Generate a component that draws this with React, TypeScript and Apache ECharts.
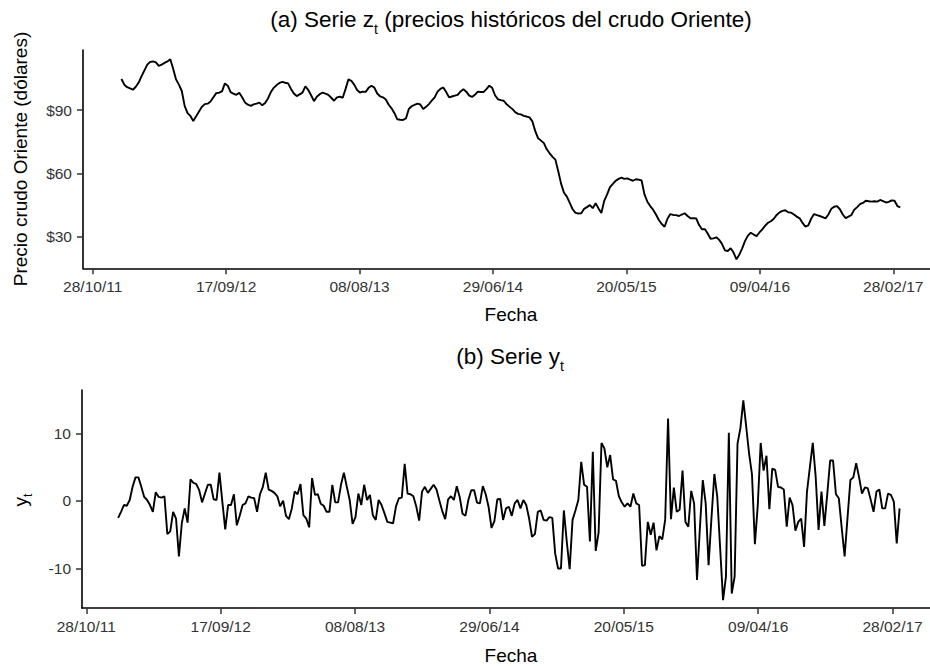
import React, { useEffect, useRef } from "react";
import * as echarts from "echarts";

// Date ticks shown on both time axes (dd/mm/yy)
const tickLabels = ["28/10/11", "17/09/12", "08/08/13", "29/06/14", "20/05/15", "09/04/16", "28/02/17"];

// First weekly observation of the price series (dd/mm/yy)
const firstWeek = "06/01/12";

// Weekly Oriente crude price, US$ (z_t)
const priceZ = [
  104.7, 102.0, 100.8, 100.2, 99.6, 101.0, 103.0, 106.0, 108.8, 111.5,
  112.8, 113.0, 112.6, 110.9, 111.5, 112.3, 113.0, 114.0, 109.5, 104.5,
  102.0, 99.0, 92.0, 88.5, 87.2, 84.8, 87.0, 89.3, 91.5, 92.8,
  93.0, 94.0, 96.0, 98.0, 98.2, 98.8, 102.6, 101.5, 98.5, 97.7,
  97.2, 98.2, 96.0, 93.6, 92.5, 92.0, 92.7, 93.0, 93.5, 92.2,
  93.3, 95.5, 98.5, 100.5, 101.8, 102.8, 103.3, 102.9, 102.6, 100.0,
  97.8, 96.6, 97.4, 98.2, 101.2, 99.5, 97.0, 94.2, 96.3, 97.5,
  98.2, 97.8, 97.2, 95.8, 94.4, 96.0, 96.3, 95.8, 100.0, 104.5,
  103.8, 102.0, 99.5, 98.3, 98.7, 98.6, 100.5, 101.5, 100.6, 97.8,
  96.5, 96.0, 95.0, 92.5, 90.8, 88.5, 85.6, 85.4, 85.3, 86.0,
  90.5, 91.8, 92.4, 93.0, 92.6, 90.5, 91.5, 92.8, 94.5, 96.0,
  98.7, 100.0, 100.7, 98.5, 96.0, 96.4, 96.8, 97.2, 98.8, 99.8,
  98.7, 96.8, 96.2, 97.2, 98.7, 98.5, 98.5, 99.9, 101.5, 100.5,
  97.0, 95.1, 94.7, 94.4, 92.8, 91.6, 90.5, 89.0, 88.2, 87.9,
  87.2, 86.9, 86.5, 84.6, 80.0, 76.6, 75.5, 74.3, 71.4, 69.5,
  67.8, 66.5, 61.0, 55.0, 50.8, 49.0, 46.0, 43.0, 41.3, 41.0,
  41.1, 43.2, 44.0, 45.0, 43.5, 45.8, 43.4, 41.2, 47.0, 50.0,
  53.5, 55.0, 56.5, 57.4, 58.0, 57.4, 57.6, 57.0, 56.5, 57.2,
  57.0, 56.6, 50.0, 46.6, 44.5, 42.8, 40.5, 37.9, 36.0, 34.7,
  38.5, 40.7, 40.3, 40.2, 39.8, 40.5, 41.1, 39.8, 38.7, 38.8,
  38.7, 35.5, 33.5, 33.6, 31.5, 29.0, 29.2, 29.7, 28.5, 26.5,
  23.5, 23.2, 24.5, 22.5, 19.3, 21.5, 24.5, 28.0, 30.5, 31.9,
  31.0, 30.3, 32.0, 33.5, 35.2, 36.6, 37.3, 38.5, 40.3, 41.5,
  42.2, 42.5, 41.6, 41.4, 40.5, 39.5, 38.7, 36.5, 34.8, 35.4,
  38.5, 40.7, 40.2, 39.8, 39.3, 38.7, 40.5, 43.2, 44.2, 44.5,
  43.0, 40.5, 38.8, 39.5, 40.3, 42.8, 44.0, 45.4, 46.0, 47.0,
  46.8, 46.6, 46.8, 46.6, 47.4, 46.8, 46.2, 46.5, 47.2, 47.0,
  44.5, 43.9,
];

// Weekly series y_t, starting one week after the first price
const seriesY = [
  -2.5, -1.6, -0.6, -0.7, 0.15, 2.1, 3.5, 3.5, 2.1, 0.6,
  0.15, -0.6, -1.6, 1.3, 0.6, 0.5, 0.7, -4.9, -4.5, -1.6,
  -2.6, -8.2, -3.3, -1.1, -3.2, 3.2, 2.7, 2.5, 1.6, -0.2,
  1.1, 2.4, 2.4, 0.25, 0.15, 4.2, -0.1, -4.2, -0.6, -0.6,
  1.0, -3.6, -2.2, -0.6, -0.35, 0.7, 0.5, 0.4, -1.6, 1.0,
  2.1, 4.2, 1.7, 1.5, 1.2, 0.7, -0.8, 0.05, -2.2, -2.7,
  -1.1, 1.4, 1.0, 2.5, -2.1, -2.6, -3.9, 3.4, 0.9, 1.0,
  -0.4, -0.7, -1.6, -1.6, 2.4, -0.2, -0.2, 2.4, 4.2, 2.1,
  0.15, -3.4, -2.4, 1.1, -0.6, 2.4, 0.15, 0.9, -2.1, -2.8,
  0.15, -0.6, -1.8, -3.1, -3.2, -3.3, -0.8, 0.4, 0.5, 5.5,
  1.1, 1.0, 0.7, -0.8, -2.9, 1.4, 2.1, 1.2, 1.8, 2.4,
  1.7, 0.05, -1.5, -2.7, 0.25, 0.7, 0.15, 2.2, 0.6, -1.9,
  -2.2, 0.15, 1.6, 1.6, -0.25, -0.35, 2.2, 1.0, -0.9, -4.0,
  -3.0, 0.25, 0.3, -2.8, -1.1, -0.85, -2.2, -0.35, 0.15, -1.1,
  0.15, -0.6, -2.6, -5.3, -4.9, -1.6, -1.4, -2.8, -2.9, -2.4,
  -2.5, -7.8, -10.0, -10.0, -1.4, -6.0, -10.1, -2.8, -1.4, 0.15,
  5.8, 2.4, 2.1, -6.0, 7.3, -7.4, -4.7, 8.6, 7.8, 5.0,
  6.8, 3.2, 3.0, 0.7, -0.2, -0.85, -0.35, -0.85, 1.1, -0.35,
  -0.6, -9.6, -9.5, -3.1, -5.0, -3.2, -7.3, -5.2, -5.7, -2.8,
  12.2, -2.7, 2.0, -1.6, -1.3, 4.5, -3.1, -3.8, 1.5, -0.35,
  -11.7, -4.0, 3.1, -0.35, -9.5, -2.5, 4.0, 0.6, -7.0, -14.7,
  -11.2, 10.1, -13.7, -11.2, 8.5, 10.8, 14.9, 11.0, 7.0, 3.9,
  -6.4, -0.6, 8.6, 4.5, 6.7, -1.2, 4.8, 4.6, 2.1, 2.0,
  1.7, -3.8, 0.5, -0.6, -4.4, -3.1, -2.6, -6.8, 1.4, 5.0,
  8.6, 3.6, -4.3, 1.4, -3.7, 1.0, 6.0, 6.0, 1.0, 0.4,
  -4.0, -8.2, -2.5, 3.1, 3.5, 5.6, 3.5, 1.1, 2.0, 1.9,
  0.2, -1.6, 1.4, 1.7, -1.1, -1.1, 1.1, 0.9, -0.1, -6.3,
  -1.1,
];

const priceTicks = [30, 60, 90];
const yTicks = [-10, 0, 10];

const DAY = 86400000;
const WEEK = 7 * DAY;
const FONT = "'Liberation Sans', Arial, Helvetica, sans-serif";

function parseDate(s: string): number {
  const [d, m, y] = s.split("/").map(Number);
  return Date.UTC(2000 + y, m - 1, d);
}

function fmtDate(v: number): string {
  const dt = new Date(v);
  const p = (n: number) => String(n).padStart(2, "0");
  return `${p(dt.getUTCDate())}/${p(dt.getUTCMonth() + 1)}/${p(dt.getUTCFullYear() % 100)}`;
}

export default function App() {
  const ref = useRef<HTMLDivElement>(null);

  useEffect(() => {
    if (!ref.current) return;
    const chart = echarts.init(ref.current, undefined, { renderer: "svg" });

    const start = parseDate(firstWeek);
    const tickVals = tickLabels.map(parseDate);
    const t0 = tickVals[0];

    const zData = priceZ.map((v, i) => [start + i * WEEK, v]);
    const yData = seriesY.map((v, i) => [start + (i + 1) * WEEK, v]);

    // horizontal scales of the two panels (px per day)
    const topPxDay = 133.43 / 325;
    const botPxDay = 134.38 / 325;
    const topLeft = 83, topWidth = 847;
    const botLeft = 82, botWidth = 848;
    const topMin = t0 - 23.6 * DAY;
    const topMax = topMin + (topWidth / topPxDay) * DAY;
    const botMin = t0 - 10.4 * DAY;
    const botMax = botMin + (botWidth / botPxDay) * DAY;

    const axisLineStyle = { color: "#000", width: 1.6 };
    const tickStyle = { color: "#333", width: 1.5 };
    const labelBase = { fontSize: 15.5, color: "#333", fontFamily: FONT };

    const xAxisCommon = (gridIndex: number, min: number, max: number) => ({
      type: "value",
      gridIndex,
      min,
      max,
      axisLine: { show: true, onZero: false, lineStyle: axisLineStyle },
      axisTick: { show: true, length: 6, lineStyle: tickStyle, customValues: tickVals },
      axisLabel: { ...labelBase, margin: 10, customValues: tickVals, formatter: (v: number) => fmtDate(v) },
      splitLine: { show: false },
    });

    const yAxisCommon = (gridIndex: number, min: number, max: number, ticks: number[], fmt: (v: number) => string) => ({
      type: "value",
      gridIndex,
      min,
      max,
      axisLine: { show: true, onZero: false, lineStyle: axisLineStyle },
      axisTick: { show: true, length: 6, lineStyle: tickStyle, customValues: ticks },
      axisLabel: { ...labelBase, margin: 11, customValues: ticks, formatter: fmt },
      splitLine: { show: false },
    });

    const option: any = {
      animation: false,
      backgroundColor: "#fff",
      grid: [
        { left: topLeft, top: 50, width: topWidth, height: 218.3 },
        { left: botLeft, top: 390, width: botWidth, height: 218 },
      ],
      xAxis: [xAxisCommon(0, topMin, topMax), xAxisCommon(1, botMin, botMax)],
      yAxis: [
        yAxisCommon(0, 15.03, 118.42, priceTicks, (v: number) => "$" + v),
        yAxisCommon(1, -15.85, 16.44, yTicks, (v: number) => String(v)),
      ],
      series: [
        {
          type: "line",
          xAxisIndex: 0,
          yAxisIndex: 0,
          data: zData,
          symbol: "none",
          lineStyle: { color: "#000", width: 1.9 },
        },
        {
          type: "line",
          xAxisIndex: 1,
          yAxisIndex: 1,
          data: yData,
          symbol: "none",
          lineStyle: { color: "#000", width: 1.9 },
        },
      ],
      graphic: [
        {
          type: "text",
          x: 511,
          y: 19,
          style: {
            text: "{n|(a) Serie z}{s|t}{n| (precios históricos del crudo Oriente)}",
            align: "center",
            verticalAlign: "middle",
            rich: {
              n: { fontSize: 22.5, fontFamily: FONT, fill: "#000", lineHeight: 34 },
              s: { fontSize: 14, fontFamily: FONT, fill: "#000", lineHeight: 14, verticalAlign: "bottom" },
            },
          },
        },
        {
          type: "text",
          x: 510,
          y: 356,
          style: {
            text: "{n|(b) Serie y}{s|t}",
            align: "center",
            verticalAlign: "middle",
            rich: {
              n: { fontSize: 22.5, fontFamily: FONT, fill: "#000", lineHeight: 34 },
              s: { fontSize: 14, fontFamily: FONT, fill: "#000", lineHeight: 14, verticalAlign: "bottom" },
            },
          },
        },
        {
          type: "text",
          x: 20,
          y: 159,
          rotation: Math.PI / 2,
          style: {
            text: "Precio crudo Oriente (dólares)",
            fontSize: 19,
            fontFamily: FONT,
            fill: "#000",
            align: "center",
            verticalAlign: "middle",
          },
        },
        {
          type: "text",
          x: 20,
          y: 500,
          rotation: Math.PI / 2,
          style: {
            text: "{n|y}{s|t}",
            align: "center",
            verticalAlign: "middle",
            rich: {
              n: { fontSize: 19, fontFamily: FONT, fill: "#000", lineHeight: 28 },
              s: { fontSize: 12, fontFamily: FONT, fill: "#000", lineHeight: 12, verticalAlign: "bottom" },
            },
          },
        },
        {
          type: "text",
          x: 511,
          y: 314,
          style: { text: "Fecha", fontSize: 19, fontFamily: FONT, fill: "#000", align: "center", verticalAlign: "middle" },
        },
        {
          type: "text",
          x: 511,
          y: 655,
          style: { text: "Fecha", fontSize: 19, fontFamily: FONT, fill: "#000", align: "center", verticalAlign: "middle" },
        },
      ],
    };

    chart.setOption(option);
    return () => chart.dispose();
  }, []);

  return (
    <div
      ref={ref}
      style={{ position: "absolute", left: 0, top: 0, width: 930, height: 666, background: "#fff" }}
    />
  );
}
